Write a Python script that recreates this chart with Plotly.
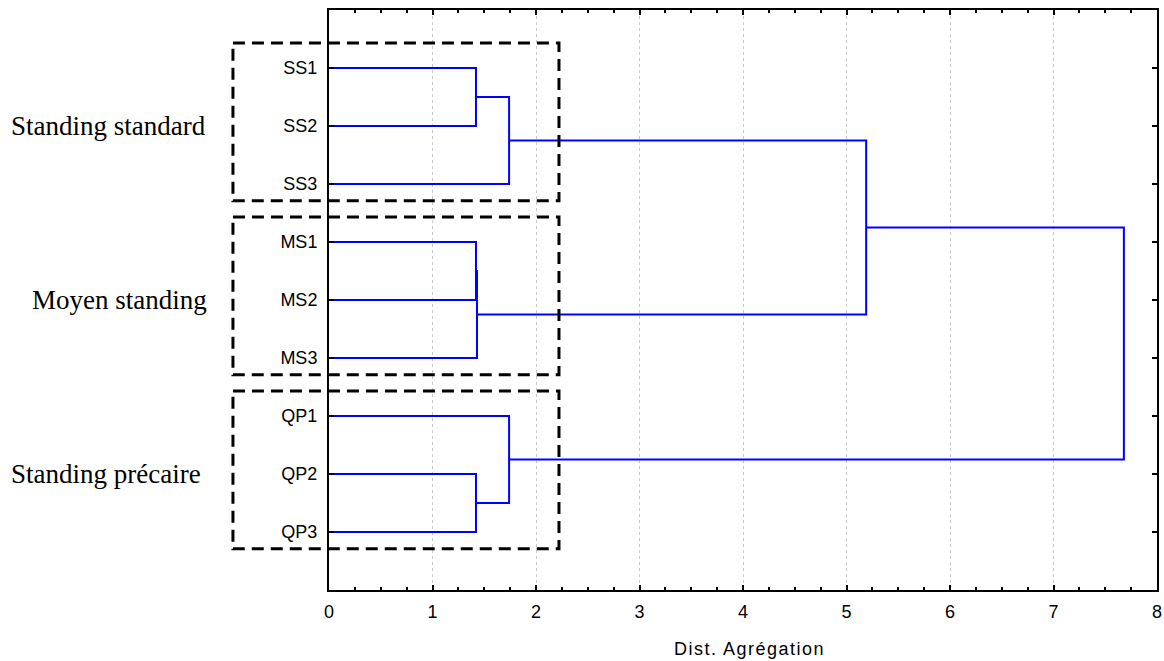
import plotly.graph_objects as go

# ---- data ----
leaves = ["SS1", "SS2", "SS3", "MS1", "MS2", "MS3", "QP1", "QP2", "QP3"]
# merges: node ids 0..8 are leaves, 9.. are new clusters in merge order
merge_a = [0, 3, 7, 10, 9, 6, 13, 15]
merge_b = [1, 4, 8, 5, 2, 11, 12, 14]
merge_h = [1.42, 1.42, 1.42, 1.43, 1.74, 1.74, 5.19, 7.68]

group_names = ["Standing standard", "Moyen standing", "Standing précaire"]
group_first = [0, 3, 6]
group_last = [2, 5, 8]

x_ticks = [0, 1, 2, 3, 4, 5, 6, 7, 8]
x_title = "Dist. Agrégation"

# ---- geometry of the plot ----
W, H = 1164, 661
L, R, T, B = 329, 7, 10, 71
XMAX = 8
YMAX = len(leaves) + 1
pw = W - L - R
ph = H - T - B

leaf_y = list(range(1, len(leaves) + 1))
node_y = {i: y for i, y in enumerate(leaf_y)}
node_h = {i: 0.0 for i in range(len(leaves))}

xs, ys = [], []
for k, (a, b, h) in enumerate(zip(merge_a, merge_b, merge_h)):
    nid = len(leaves) + k
    ya, yb = node_y[a], node_y[b]
    xs += [node_h[a], h, h, node_h[b], None]
    ys += [ya, ya, yb, yb, None]
    node_y[nid] = (ya + yb) / 2
    node_h[nid] = h

fig = go.Figure()
fig.add_trace(go.Scatter(x=xs, y=ys, mode="lines",
                         line=dict(color="#0000FF", width=2),
                         hoverinfo="skip", showlegend=False))

# dashed group boxes (data units, converted to paper so they are not clipped)
box_x0, box_x1 = -0.928, 2.222
pad_top, pad_bot = 0.43, 0.29
shapes = []
annotations = []
label_left_px = [9, 30, 9]
for gname, f, l, lx in zip(group_names, group_first, group_last, label_left_px):
    y0 = leaf_y[f] - pad_top
    y1 = leaf_y[l] + pad_bot
    shapes.append(dict(type="rect", xref="paper", yref="paper",
                       x0=box_x0 / XMAX, x1=box_x1 / XMAX,
                       y0=1 - y0 / YMAX, y1=1 - y1 / YMAX,
                       line=dict(color="black", width=3, dash="12px,7px"),
                       fillcolor="rgba(0,0,0,0)", layer="above"))
    ymid = (leaf_y[f] + leaf_y[l]) / 2
    annotations.append(dict(text=gname, xref="paper", yref="paper",
                            x=(lx - L) / pw, y=1 - ymid / YMAX,
                            xanchor="left", yanchor="middle", showarrow=False,
                            font=dict(family="Liberation Serif, Times New Roman, serif",
                                      size=27, color="black")))

annotations.append(dict(text='<span style="letter-spacing:1.5px">' + x_title + '</span>',
                        xref="paper", yref="paper",
                        x=(749 - L) / pw, y=-(649 - (T + ph)) / ph,
                        xanchor="center", yanchor="middle", showarrow=False,
                        font=dict(family="Liberation Sans, Arial, sans-serif",
                                  size=18, color="black")))

fig.update_layout(
    width=W, height=H, autosize=False,
    margin=dict(l=L, r=R, t=T, b=B, pad=0, autoexpand=False),
    plot_bgcolor="white", paper_bgcolor="white",
    shapes=shapes, annotations=annotations,
    xaxis=dict(range=[0, XMAX], tickvals=x_ticks, ticktext=[str(v) for v in x_ticks],
               automargin=False,
               showgrid=True, gridcolor="#c8c8c8", griddash="dot", gridwidth=1,
               zeroline=False, showline=True, linecolor="black", linewidth=2,
               mirror="ticks", ticks="inside", ticklen=5, tickwidth=2, tickcolor="black",
               minor=dict(dtick=0.25, ticks="inside", ticklen=3, tickwidth=2,
                          tickcolor="black", showgrid=False),
               tickfont=dict(family="Liberation Sans, Arial, sans-serif", size=18,
                             color="black"),
               ticklabelstandoff=4),
    yaxis=dict(range=[YMAX, 0], tickvals=leaf_y, ticktext=leaves,
               automargin=False,
               showgrid=False, zeroline=False, showline=True, linecolor="black",
               linewidth=2, mirror="ticks", ticks="inside", ticklen=5, tickwidth=2,
               tickcolor="black",
               tickfont=dict(family="Liberation Sans, Arial, sans-serif", size=18,
                             color="black"),
               ticklabelstandoff=6),
)

fig.write_html("out.html", config={"displayModeBar": False},
               post_script="document.body.style.margin='0';")
